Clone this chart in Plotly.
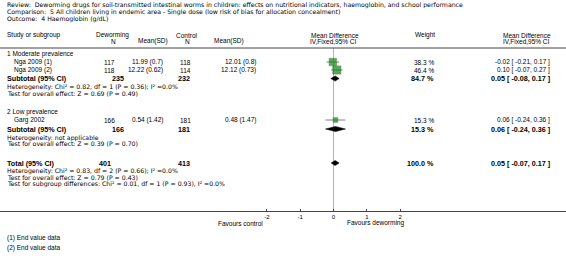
import plotly.graph_objects as go

# ---------------- data ----------------
title_lines = [
    "Review:  Deworming drugs for soil-transmitted intestinal worms in children: effects on nutritional indicators, haemoglobin, and school performance",
    "Comparison:  5 All children living in endemic area - Single dose (low risk of bias for allocation concealment)",
    "Outcome:  4 Haemoglobin (g/dL)",
]
subgroup_names = ["1 Moderate prevalence", "2 Low prevalence"]
study_names = ["Nga 2009 (1)", "Nga 2009 (2)", "Garg 2002"]
dew_n = [117, 118, 166]
dew_mean = [11.99, 12.22, 0.54]
dew_sd = [0.7, 0.62, 1.42]
ctl_n = [118, 114, 181]
ctl_mean = [12.01, 12.12, 0.48]
ctl_sd = [0.8, 0.73, 1.47]
md = [-0.02, 0.10, 0.06]
ci_lo = [-0.21, -0.07, -0.24]
ci_hi = [0.17, 0.27, 0.36]
weight = [38.3, 46.4, 15.3]

sub_dew_n = [235, 166]
sub_ctl_n = [232, 181]
sub_md = [0.05, 0.06]
sub_lo = [-0.08, -0.24]
sub_hi = [0.17, 0.36]
sub_weight = [84.7, 15.3]
sub_het = ["Heterogeneity: Chi² = 0.82, df = 1 (P = 0.36); I² =0.0%",
           "Heterogeneity: not applicable"]
sub_test = ["Test for overall effect: Z = 0.69 (P = 0.49)",
            "Test for overall effect: Z = 0.39 (P = 0.70)"]

tot_dew_n = 401
tot_ctl_n = 413
tot_md = 0.05
tot_lo = -0.07
tot_hi = 0.17
tot_weight = 100.0
tot_lines = ["Heterogeneity: Chi² = 0.83, df = 2 (P = 0.66); I² =0.0%",
             "Test for overall effect: Z = 0.79 (P = 0.43)",
             "Test for subgroup differences: Chi² = 0.01, df = 1 (P = 0.93), I² =0.0%"]

tick_vals = [-2, -1, 0, 1, 2]
tick_text = ["-2", "-1", "0", "1", "2"]
favours = ["Favours control", "Favours deworming"]
footnotes = ["(1) End value data", "(2) End value data"]

# ---------------- layout (pixel rows) ----------------
W, H = 566, 256
FONT = "Liberation Sans, Arial, sans-serif"
WIDE = "DejaVu Sans, Verdana, sans-serif"
FSW = 6.2       # long descriptive lines
FSN = 6.5       # table text / numbers
FSB = 7.2       # bold summary rows
title_y = [5, 12, 19]
hdr_y = [35, 41]
hline_y = 48
sub_label_y = [54, 112]
study_y = [62, 70, 120]
subtot_y = [78.5, 129]
het_y = [87, 137.5]
test_y = [93, 143.5]
total_y = 163
tot_lines_y = [171, 177, 184]
axis_y = 211
fav_y = 223
foot_y = [238, 248]

ZERO_PX = 333.5
UNIT_PX = 33.33
xr = [(0 - ZERO_PX) / UNIT_PX, (W - ZERO_PX) / UNIT_PX]

def px(x):
    return x / W

ann = []
def txt(x, y, s, anchor="left", bold=False, size=None, family=FONT):
    ann.append(dict(x=px(x), y=y, xref="paper", yref="y", text=("<b>%s</b>" % s) if bold else s,
                    showarrow=False, xanchor=anchor, yanchor="middle",
                    font=dict(family=family, size=size or (FSB if bold else FSN), color="black")))

def wide(x, y, s, anchor="left"):
    txt(x, y, s, anchor, size=FSW, family=WIDE)

L = 5
IND = 12
C_DN, C_DM, C_CN, C_CM, C_W, C_E = 117, 165, 193, 258, 436, 552

for i, t in enumerate(title_lines):
    wide(L, title_y[i], t)

txt(L, hdr_y[0], "Study or subgroup")
txt(112, hdr_y[0], "Deworming", "center")
txt(113, hdr_y[1], "N", "center")
txt(153, hdr_y[1], "Mean(SD)", "center")
txt(187, hdr_y[0], "Control", "center")
txt(187, hdr_y[1], "N", "center")
txt(229, hdr_y[1], "Mean(SD)", "center")
txt(335, hdr_y[0], "Mean Difference", "center")
txt(333, hdr_y[1], "IV,Fixed,95% CI", "center")
txt(425, hdr_y[0], "Weight", "center")
txt(527, hdr_y[0], "Mean Difference", "center")
txt(526, hdr_y[1], "IV,Fixed,95% CI", "center")

for g in range(2):
    txt(L, sub_label_y[g], subgroup_names[g])
for i in range(len(study_names)):
    y = study_y[i]
    txt(IND, y, study_names[i])
    txt(C_DN, y, str(dew_n[i]), "right")
    txt(C_DM, y, "%.2f (%s)" % (dew_mean[i], ("%.2f" % dew_sd[i]).rstrip("0").rstrip(".")), "right")
    txt(C_CN, y, str(ctl_n[i]), "right")
    txt(C_CM, y, "%.2f (%s)" % (ctl_mean[i], ("%.2f" % ctl_sd[i]).rstrip("0").rstrip(".")), "right")
    txt(C_W, y, "%.1f %%" % weight[i], "right")
    txt(C_E, y, "%.2f [ %.2f, %.2f ]" % (md[i], ci_lo[i], ci_hi[i]), "right")

for g in range(2):
    y = subtot_y[g]
    txt(L, y, "Subtotal (95% CI)", bold=True)
    txt(C_DN - 7, y, str(sub_dew_n[g]), bold=True)
    txt(C_CN - 17, y, str(sub_ctl_n[g]), bold=True)
    txt(C_W, y, "%.1f %%" % sub_weight[g], "right", bold=True)
    txt(C_E, y, "%.2f [ %.2f, %.2f ]" % (sub_md[g], sub_lo[g], sub_hi[g]), "right", bold=True)
    wide(L, het_y[g], sub_het[g])
    wide(L, test_y[g], sub_test[g])

txt(L, total_y, "Total (95% CI)", bold=True)
txt(C_DN - 20, total_y, str(tot_dew_n), bold=True)
txt(C_CN - 17, total_y, str(tot_ctl_n), bold=True)
txt(C_W, total_y, "%.1f %%" % tot_weight, "right", bold=True)
txt(C_E, total_y, "%.2f [ %.2f, %.2f ]" % (tot_md, tot_lo, tot_hi), "right", bold=True)
for k, t in enumerate(tot_lines):
    wide(L, tot_lines_y[k], t)

txt(265, fav_y, favours[0], "right")
txt(345, fav_y, favours[1], "left")
for k, t in enumerate(footnotes):
    txt(L, foot_y[k], t)

# ---------------- marks ----------------
fig = go.Figure()
fig.add_trace(go.Scatter(x=[0, 0], y=[hline_y, axis_y], mode="lines",
                         line=dict(color="#b4b4b4", width=1), hoverinfo="skip", showlegend=False))
for i in range(len(md)):
    fig.add_trace(go.Scatter(x=[ci_lo[i], ci_hi[i]], y=[study_y[i], study_y[i]], mode="lines",
                             line=dict(color="#6b8f6b", width=1), hoverinfo="skip", showlegend=False))
fig.add_trace(go.Scatter(x=md, y=study_y, mode="markers",
                         marker=dict(symbol="square", size=[1.2 * w ** 0.5 for w in weight],
                                     color="#178317", line=dict(color="#0d5c0d", width=0.5)),
                         hoverinfo="skip", showlegend=False))
HH = 2.6
def diamond(m, lo, hi, y):
    fig.add_trace(go.Scatter(x=[lo, m, hi, m, lo], y=[y, y - HH, y, y + HH, y], mode="lines",
                             fill="toself", fillcolor="black", line=dict(color="black", width=0.5),
                             hoverinfo="skip", showlegend=False))
for g in range(2):
    diamond(sub_md[g], sub_lo[g], sub_hi[g], subtot_y[g])
diamond(tot_md, tot_lo, tot_hi, total_y)

shapes = [dict(type="line", xref="paper", yref="y", x0=0, x1=1, y0=hline_y, y1=hline_y,
               line=dict(color="#444444", width=1))]

fig.update_layout(
    width=W, height=H, margin=dict(l=0, r=0, t=0, b=0),
    paper_bgcolor="white", plot_bgcolor="white",
    annotations=ann, shapes=shapes,
    xaxis=dict(range=xr, domain=[0, 1], anchor="free", position=(H - axis_y) / H,
               showgrid=False, zeroline=False, showline=True, linecolor="#444444", linewidth=1,
               tickmode="array", tickvals=tick_vals, ticktext=tick_text,
               ticks="inside", ticklen=2, tickcolor="#444444",
               tickfont=dict(family=FONT, size=6, color="black"), fixedrange=True),
    yaxis=dict(range=[H, 0], domain=[0, 1], visible=False, fixedrange=True),
    showlegend=False,
)
fig.write_html("out.html", config={"displayModeBar": False, "staticPlot": True},
               post_script="document.body.style.margin='0';document.body.style.overflow='hidden';")
